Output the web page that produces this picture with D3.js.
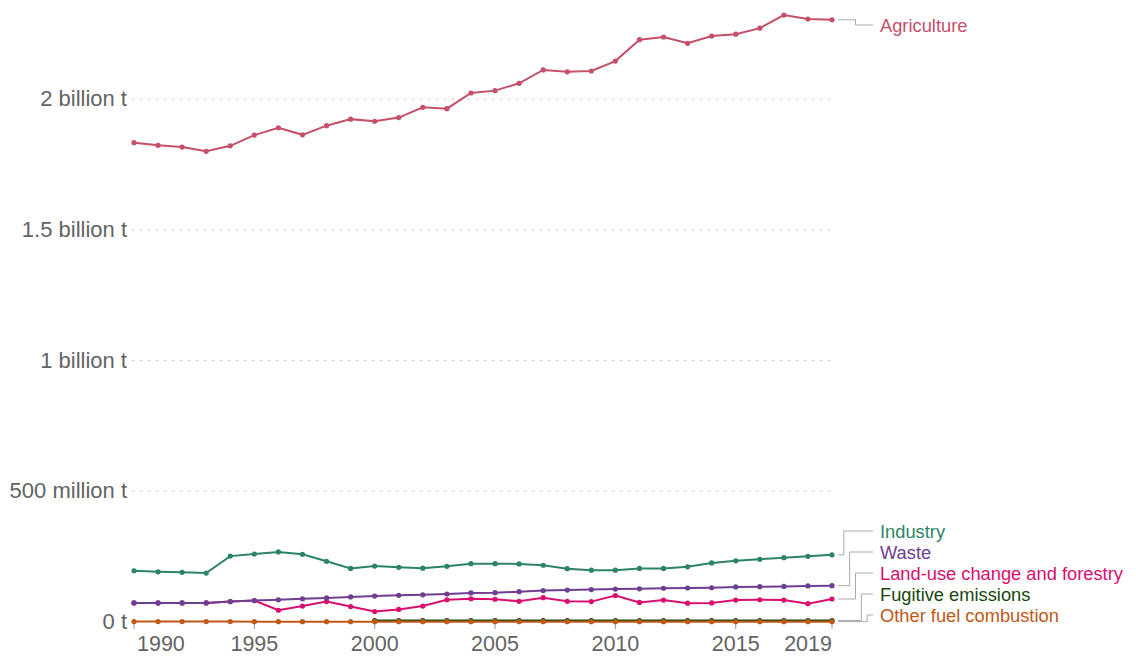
<!DOCTYPE html>
<html>
<head>
<meta charset="utf-8">
<script src="https://cdn.jsdelivr.net/npm/d3@7"></script>
<style>
  body { margin: 0; background: #fff; }
  svg { display: block; font-family: "Liberation Sans", Arial, sans-serif; }
</style>
</head>
<body>
<svg id="chart" width="1136" height="657"></svg>
<script>
// years on the x axis
var years = [1990, 1991, 1992, 1993, 1994, 1995, 1996, 1997, 1998, 1999,
    2000, 2001, 2002, 2003, 2004, 2005, 2006, 2007, 2008, 2009,
    2010, 2011, 2012, 2013, 2014, 2015, 2016, 2017, 2018, 2019];

// emissions by sector, tonnes (null = no data)
var agriculture = [1.833e9, 1.823e9, 1.816e9, 1.800e9, 1.821e9, 1.862e9, 1.890e9, 1.863e9, 1.898e9, 1.923e9,
    1.915e9, 1.929e9, 1.968e9, 1.963e9, 2.023e9, 2.032e9, 2.060e9, 2.111e9, 2.104e9, 2.107e9,
    2.145e9, 2.227e9, 2.237e9, 2.213e9, 2.241e9, 2.248e9, 2.271e9, 2.321e9, 2.306e9, 2.303e9];
var industry = [196e6, 192e6, 190e6, 187e6, 252e6, 260e6, 268e6, 259e6, 232e6, 205e6,
    214e6, 209e6, 206e6, 213e6, 223e6, 223e6, 222e6, 217e6, 204e6, 198e6,
    198e6, 205e6, 205e6, 211e6, 226e6, 234e6, 240e6, 246e6, 251e6, 257e6];
var waste = [73e6, 73e6, 73e6, 73e6, 78e6, 82e6, 85e6, 89e6, 92e6, 96e6,
    99e6, 102e6, 104e6, 107e6, 111e6, 112e6, 116e6, 120e6, 122e6, 124e6,
    126e6, 127e6, 129e6, 130e6, 131e6, 134e6, 135e6, 136e6, 138e6, 139e6];
var landUse = [73e6, 73e6, 73e6, 73e6, 78e6, 82e6, 45e6, 61e6, 78e6, 59e6,
    40e6, 48e6, 61e6, 85e6, 89e6, 87e6, 79e6, 93e6, 79e6, 78e6,
    101e6, 75e6, 84e6, 72e6, 73e6, 84e6, 85e6, 84e6, 70e6, 88e6];
var fugitive = [null, null, null, null, null, null, null, null, null, null,
    5.5e6, 5.5e6, 5.6e6, 5.6e6, 5.6e6, 5.7e6, 5.7e6, 5.7e6, 5.7e6, 5.7e6,
    5.7e6, 5.8e6, 5.8e6, 5.8e6, 5.8e6, 5.8e6, 5.8e6, 5.8e6, 5.8e6, 5.8e6];
var otherFuel = [1.5e6, 1.5e6, 1.5e6, 1.5e6, 1.5e6, 1.4e6, 1.4e6, 1.4e6, 1.4e6, 1.4e6,
    1.4e6, 1.4e6, 1.4e6, 1.4e6, 1.4e6, 1.4e6, 1.4e6, 1.4e6, 1.4e6, 1.4e6,
    1.4e6, 1.4e6, 1.4e6, 1.4e6, 1.4e6, 1.4e6, 1.4e6, 1.4e6, 1.4e6, 1.4e6];

var seriesNames = ["Agriculture", "Industry", "Land-use change and forestry", "Waste", "Fugitive emissions", "Other fuel combustion"];
var seriesValues = [agriculture, industry, landUse, waste, fugitive, otherFuel];
var seriesColors = ["#c4506a", "#2c8465", "#d80f6e", "#6d3e91", "#18470f", "#c05917"];

var yTicks = [0, 5e8, 1e9, 1.5e9, 2e9];
var yTickLabels = ["0 t", "500 million t", "1 billion t", "1.5 billion t", "2 billion t"];
var xTicks = [1990, 1995, 2000, 2005, 2010, 2015, 2019];

var svg = d3.select('#chart');

var x = d3.scaleLinear().domain([1990, 2019]).range([134, 832]);
var y = d3.scaleLinear().domain([0, 2e9]).range([622, 99]);

// gridlines
svg.append('g')
    .selectAll('line')
    .data(yTicks.filter(function(d) { return d > 0; }))
    .enter()
    .append('line')
    .attr('x1', 131)
    .attr('x2', x(2019))
    .attr('y1', function(d) { return y(d); })
    .attr('y2', function(d) { return y(d); })
    .style('stroke', '#d8d8d8')
    .style('stroke-dasharray', '4,4');

// y labels
svg.append('g')
    .selectAll('text')
    .data(yTicks)
    .enter()
    .append('text')
    .attr('x', 127)
    .attr('y', function(d) { return y(d) + 7; })
    .attr('text-anchor', 'end')
    .style('font-size', '22px')
    .style('fill', '#636363')
    .text(function(d, i) { return yTickLabels[i]; });

// x axis ticks + labels
var xg = svg.append('g');
xg.selectAll('line')
    .data(xTicks)
    .enter()
    .append('line')
    .attr('x1', function(d) { return x(d); })
    .attr('x2', function(d) { return x(d); })
    .attr('y1', 623)
    .attr('y2', 629)
    .style('stroke', '#999');

xg.selectAll('text')
    .data(xTicks)
    .enter()
    .append('text')
    .attr('x', function(d, i) {
        if (i == 0) return x(d) + 3;
        return x(d);
    })
    .attr('y', 651)
    .attr('text-anchor', function(d, i) {
        if (i == 0) return 'start';
        if (i == xTicks.length - 1) return 'end';
        return 'middle';
    })
    .style('font-size', '21.5px')
    .style('fill', '#636363')
    .text(function(d) { return d; });

// lines and dots
var line = d3.line()
    .defined(function(d) { return d.v != null; })
    .x(function(d) { return x(d.year); })
    .y(function(d) { return y(d.v); });

var series = seriesNames.map(function(name, i) {
    return {
        name: name,
        color: seriesColors[i],
        points: years.map(function(yr, j) {
            return { year: yr, v: seriesValues[i][j] };
        })
    };
});

series.forEach(function(s) {
    var g = svg.append('g');
    g.append('path')
        .datum(s.points)
        .attr('d', line)
        .style('fill', 'none')
        .style('stroke', s.color)
        .style('stroke-width', 2);
    g.selectAll('circle')
        .data(s.points.filter(function(d) { return d.v != null; }))
        .enter()
        .append('circle')
        .attr('cx', function(d) { return x(d.year); })
        .attr('cy', function(d) { return y(d.v); })
        .attr('r', 2.6)
        .style('fill', s.color);
});

// labels on the right, pushed apart so they don't overlap
var spacing = 21;
var labels = series.map(function(s) {
    var last = s.points[s.points.length - 1];
    return { name: s.name, color: s.color, dataY: y(last.v), ly: y(last.v) };
});
labels.sort(function(a, b) { return b.dataY - a.dataY; });
labels.forEach(function(l, i) {
    var limit = (i == 0) ? 615 : labels[i - 1].ly - spacing;
    l.ly = Math.min(l.ly, limit);
    l.ly = Math.max(l.ly, 25);
});

// group labels that sit stacked together
var groups = [];
labels.slice().reverse().forEach(function(l) {
    var g = groups[groups.length - 1];
    if (g && Math.abs(l.ly - g[g.length - 1].ly) <= spacing + 0.5) {
        g.push(l);
    } else {
        groups.push([l]);
    }
});

var lineStart = x(2019) + 6,
    lineEnd = 873;
var lg = svg.append('g');
groups.forEach(function(g) {
    g.forEach(function(l, i) {
        var knee = lineStart + (lineEnd - lineStart) * (i + 1) / (g.length + 1);
        lg.append('path')
            .attr('d', 'M' + lineStart + ',' + l.dataY + 'H' + knee + 'V' + l.ly + 'H' + lineEnd)
            .style('fill', 'none')
            .style('stroke', '#aaa')
            .style('stroke-width', 1);
        lg.append('text')
            .attr('x', 880)
            .attr('y', l.ly + 6.5)
            .style('font-size', '18.3px')
            .style('fill', l.color)
            .text(l.name);
    });
});
</script>
</body>
</html>
